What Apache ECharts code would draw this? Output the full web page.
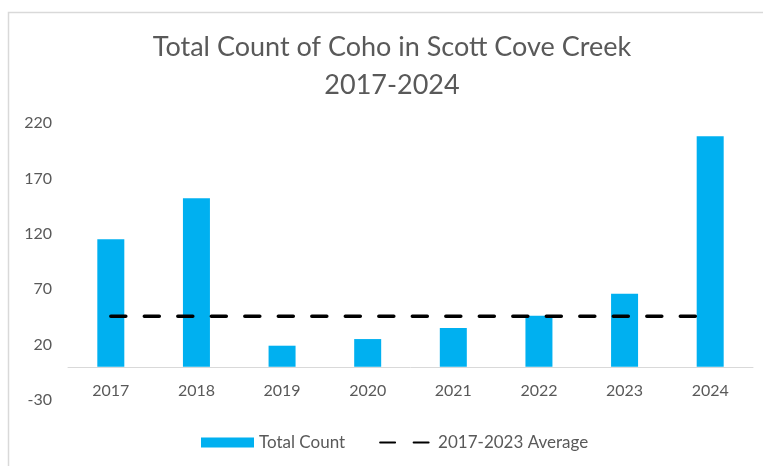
<!DOCTYPE html>
<html>
<head>
<meta charset="utf-8">
<script src="https://cdn.jsdelivr.net/npm/echarts@6/dist/echarts.min.js"></script>
<style>
  html, body { margin: 0; padding: 0; background: #fff; }
  #chart { width: 763px; height: 466px; }
</style>
</head>
<body>
<div id="chart"></div>
<script>
// Coho counts per survey year
const years = ['2017', '2018', '2019', '2020', '2021', '2022', '2023', '2024'];
const totalCount = [115, 152, 19, 25, 35, 46, 66, 208];
// Reference level for the 2017-2023 average, one point per year
const averageLevel = [45.5, 45.5, 45.5, 45.5, 45.5, 45.5, 45.5, 45.5];

const FONT = 'Lato, "Open Sans", sans-serif';
const GREY = '#595959';

const chart = echarts.init(document.getElementById('chart'), null, { renderer: 'canvas' });

chart.setOption({
  backgroundColor: '#ffffff',
  animation: false,
  graphic: [{
    type: 'rect',
    left: 6,
    top: 10,
    shape: { width: 800, height: 500 },
    style: { fill: 'none', stroke: '#d9d9d9', lineWidth: 1.5 },
    silent: true,
    z: -10
  }],
  title: {
    text: 'Total Count of Coho in Scott Cove Creek\n2017-2024',
    left: 387,
    textAlign: 'center',
    top: 23,
    textStyle: {
      fontFamily: FONT,
      fontSize: 27,
      fontWeight: 'normal',
      color: GREY,
      lineHeight: 38
    }
  },
  legend: {
    left: 196,
    top: 429,
    itemWidth: 53,
    itemHeight: 10,
    itemGap: 34,
    textStyle: { fontFamily: FONT, fontSize: 17, color: GREY },
    data: [
      { name: 'Total Count', icon: 'rect' },
      { name: '2017-2023 Average', itemStyle: { opacity: 0 } }
    ]
  },
  grid: { left: 68, right: 10, top: 123, bottom: 66, containLabel: false },
  xAxis: {
    type: 'category',
    data: years,
    axisTick: { show: false },
    axisLine: { onZero: true, lineStyle: { color: '#d9d9d9', width: 1 } },
    axisLabel: { margin: -17, fontFamily: FONT, fontSize: 16, color: GREY }
  },
  yAxis: {
    type: 'value',
    min: -30,
    max: 220,
    interval: 50,
    splitLine: { show: false },
    axisLine: { show: false },
    axisTick: { show: false },
    axisLabel: { margin: 16, fontFamily: FONT, fontSize: 16, color: GREY }
  },
  series: [
    {
      name: 'Total Count',
      type: 'bar',
      data: totalCount,
      barWidth: 27,
      itemStyle: { color: '#00b0f0' },
      z: 2
    },
    {
      name: '2017-2023 Average',
      type: 'line',
      data: averageLevel,
      symbol: 'none',
      showSymbol: false,
      lineStyle: { color: '#000000', width: 3.5, type: [15, 18.5], cap: 'round' },
      itemStyle: { color: '#000000' },
      z: 3
    }
  ]
});
</script>
</body>
</html>
